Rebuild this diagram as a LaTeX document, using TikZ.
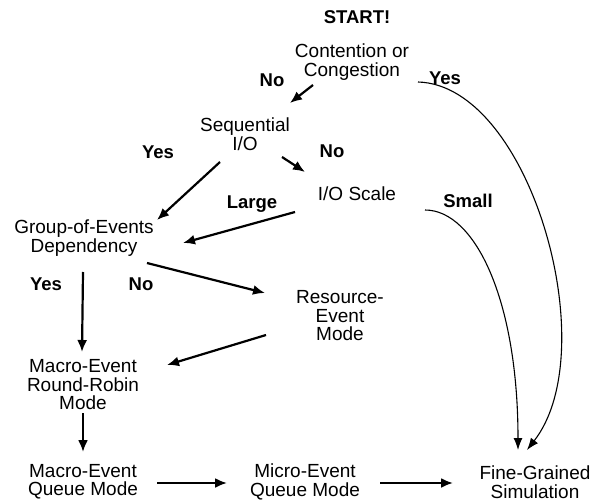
\documentclass[tikz,border=0pt]{standalone}
\usepackage{fontspec}
\setmainfont{Liberation Sans}
\usetikzlibrary{arrows.meta}
\begin{document}
\begin{tikzpicture}[x=1pt,y=-1pt,
        every node/.style={font=\fontsize{19}{18.5}\selectfont},
        box/.style={align=center,inner sep=0pt},
        lbl/.style={font=\fontsize{18.5}{18.5}\selectfont\bfseries,inner sep=0pt},
        arr/.style={draw,line width=2.2pt,-{Latex[length=12pt,width=10pt]}},
        curvearr/.style={draw,line width=1.1pt,-{Latex[length=12pt,width=9pt]}}]
        \useasboundingbox (0,0) rectangle (599,502);

        \node[lbl] (start) at (357,17) {START!};
        \node[box] (cont) at (352,62) {Contention or\\Congestion};
        \node[box] (seq) at (245,134) {Sequential\\I/O};
        \node[box] (scale) at (357,194) {I/O Scale};
        \node[box] (group) at (84,238) {Group-of-Events\\Dependency};
        \node[box] (res) at (340,316) {Resource-\\Event\\Mode};
        \node[box] (macrr) at (83,385) {Macro-Event\\Round-Robin\\Mode};
        \node[box] (macq) at (83,482) {Macro-Event\\Queue Mode};
        \node[box] (micq) at (305,482) {Micro-Event\\Queue Mode};
        \node[box] (fine) at (535,482) {Fine-Grained\\Simulation};

        % branch labels
        \node[lbl] (no1) at (272,80) {No};
        \node[lbl] (yes1) at (445,78) {Yes};
        \node[lbl] (yes2) at (158,152) {Yes};
        \node[lbl] (no2) at (332,151) {No};
        \node[lbl] (large) at (252,204) {Large};
        \node[lbl] (small) at (468,201) {Small};
        \node[lbl] (yes3) at (46,284) {Yes};
        \node[lbl] (no3) at (141,284) {No};

        \path[arr] ([shift={(-39,23)}]cont.center) -- ([shift={(45,-31)}]seq.center);
        \path[arr] ([shift={(-25,28)}]seq.center) -- ([shift={(73,-18)}]group.center);
        \path[arr] ([shift={(37,23)}]seq.center) -- ([shift={(-52,-22)}]scale.center);
        \path[arr] ([shift={(-62,18)}]scale.center) -- ([shift={(99,5)}]group.center);
        \path[arr] ([shift={(63,25)}]group.center) -- ([shift={(-75,-23)}]res.center);
        \path[arr] ([shift={(-1,34)}]group.center) -- ([shift={(-1,-33)}]macrr.center);
        \path[arr] ([shift={(-74,19)}]res.center) -- ([shift={(84,-20)}]macrr.center);
        \path[arr] ([shift={(0,28)}]macrr.center) -- ([shift={(0,-30)}]macq.center);
        \path[arr] ([shift={(74,1)}]macq.center) -- ([shift={(-78,1)}]micq.center);
        \path[arr] ([shift={(75,1)}]micq.center) -- ([shift={(-82,1)}]fine.center);

        \path[curvearr] ([shift={(66,20)}]cont.center) .. controls (530,85) and (605,350) .. ([shift={(-8,-32)}]fine.center);
        \path[curvearr] ([shift={(68,16)}]scale.center) .. controls (475,210) and (518,300) .. ([shift={(-17,-32)}]fine.center);
    \end{tikzpicture}
\end{document}
